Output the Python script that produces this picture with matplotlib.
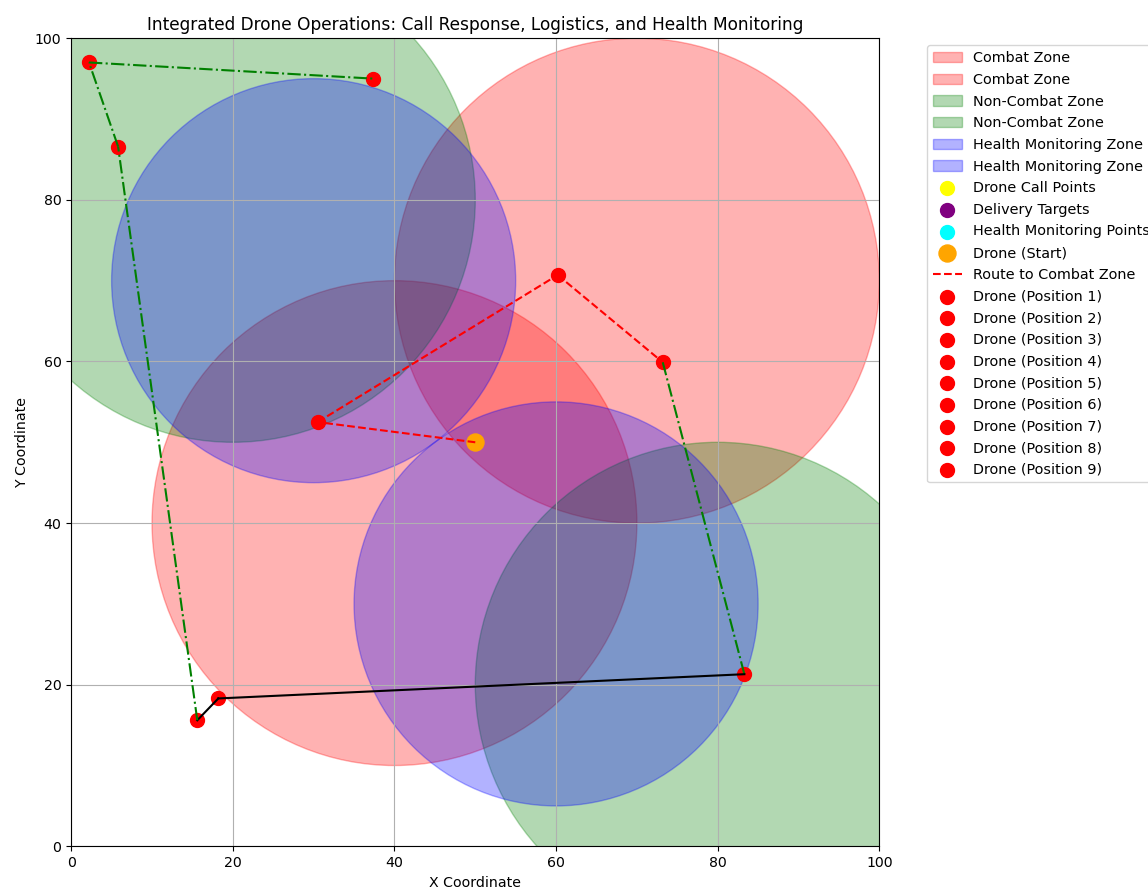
import numpy as np
import matplotlib.pyplot as plt
from matplotlib.patches import Circle

plt.rcParams['font.size'] = 10.2

# zones: (center x, center y, radius)
combat_zones = [(70, 70, 30), (40, 40, 30)]
non_combat_zones = [(20, 80, 30), (80, 20, 30)]
health_zones = [(30, 70, 25), (60, 30, 25)]

# points (not visible in the reference, legend only)
call_x, call_y = [], []
delivery_x, delivery_y = [], []
health_x, health_y = [], []

start = (50, 50)
pos_x = [30.5, 60.2, 73.2, 83.3, 18.2, 15.6, 5.8, 2.2, 37.4]
pos_y = [52.5, 70.7, 59.9, 21.3, 18.3, 15.6, 86.6, 97.0, 95.0]

# segment styles between consecutive route points (start, pos1..pos9)
seg_styles = ['r--', 'r--', 'r--', 'g-.', 'k-', 'k-', 'g-.', 'g-.', 'g-.']

fig = plt.figure(figsize=(11.48, 8.89), dpi=100)
ax = fig.add_axes([0.062, 0.048, 0.704, 0.909])

for cx, cy, r in combat_zones:
    ax.add_patch(Circle((cx, cy), r, color='red', alpha=0.3, label='Combat Zone'))
for cx, cy, r in non_combat_zones:
    ax.add_patch(Circle((cx, cy), r, color='green', alpha=0.3, label='Non-Combat Zone'))
for cx, cy, r in health_zones:
    ax.add_patch(Circle((cx, cy), r, color='blue', alpha=0.3, label='Health Monitoring Zone'))

ax.scatter(call_x, call_y, color='yellow', s=100, label='Drone Call Points')
ax.scatter(delivery_x, delivery_y, color='purple', s=100, label='Delivery Targets')
ax.scatter(health_x, health_y, color='cyan', s=100, label='Health Monitoring Points')
ax.scatter(*start, color='orange', s=150, label='Drone (Start)', zorder=3)

route_x = [start[0]] + pos_x
route_y = [start[1]] + pos_y
for i, st in enumerate(seg_styles):
    lbl = 'Route to Combat Zone' if i == 0 else None
    ax.plot(route_x[i:i + 2], route_y[i:i + 2], st, lw=1.5, label=lbl, zorder=4)

for i in range(len(pos_x)):
    ax.scatter(pos_x[i], pos_y[i], color='red', s=100, label=f'Drone (Position {i + 1})', zorder=3)

ax.set_xlim(0, 100)
ax.set_ylim(0, 100)
ax.set_aspect('equal')
ax.grid(True)
ax.set_title('Integrated Drone Operations: Call Response, Logistics, and Health Monitoring')
ax.set_xlabel('X Coordinate')
ax.set_ylabel('Y Coordinate')

h, l = ax.get_legend_handles_labels()
ax.legend(h, l, bbox_to_anchor=(1.05, 1), loc='upper left', fontsize=10.4, labelspacing=0.53)

fig.savefig('out.png', dpi=100)
